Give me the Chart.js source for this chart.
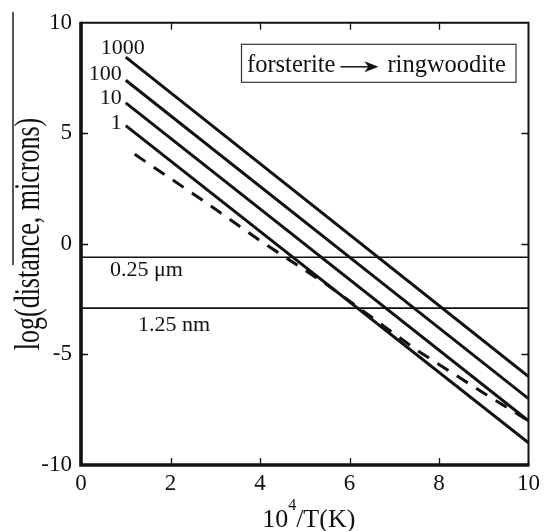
<!DOCTYPE html>
<html>
<head>
<meta charset="utf-8">
<script src="https://cdn.jsdelivr.net/npm/chart.js@4.4.1/dist/chart.umd.min.js"></script>
<style>
  html, body { margin: 0; padding: 0; background: #fff; }
  canvas { display: block; }
</style>
</head>
<body>
<canvas id="c" width="545" height="531"></canvas>
<script>
// Inverse temperature, 10^4/T(K), where each transformation-distance line starts and ends
const invT = [1, 10];

// log10 of the distance (microns) reached, one line per time label
const seriesNames = ['1000', '100', '10', '1'];
const logDist1000 = [8.45, -6.0];
const logDist100 = [7.4, -7.0];
const logDist10 = [6.38, -8.0];
const logDist1 = [5.35, -9.0];

// Dashed curve
const invTDashed = [1.2, 2.7, 4.0, 5.5, 7.5, 8.9, 10];
const logDistDashed = [4.05, 2.0, 0.15, -1.85, -4.8, -6.62, -8.0];

// Reference grain sizes (in microns) and their labels
const refSizes = [0.25, 0.00125];
const refLabels = ['0.25 \u03bcm', '1.25 nm'];

// Axis ticks
const xTicks = [0, 2, 4, 6, 8, 10];
const yTicks = [-10, -5, 0, 5, 10];

const SERIF = '"Liberation Serif", "Times New Roman", serif';
const INK = '#111';

const pts = (xs, ys) => xs.map((v, i) => ({ x: v, y: ys[i] }));
const solidSeries = [logDist1000, logDist100, logDist10, logDist1];

const datasets = solidSeries.map((ys, i) => ({
  label: seriesNames[i],
  data: pts(invT, ys),
  borderColor: INK,
  borderWidth: 3,
  showLine: true,
  pointRadius: 0,
  tension: 0,
  borderCapStyle: 'butt'
}));
datasets.push({
  label: 'dashed',
  data: pts(invTDashed, logDistDashed),
  borderColor: INK,
  borderWidth: 3,
  borderDash: [13, 10],
  showLine: true,
  pointRadius: 0,
  tension: 0
});
refSizes.forEach((s, i) => {
  const yv = Math.log10(s);
  datasets.push({
    label: refLabels[i],
    data: pts([xTicks[0], xTicks[xTicks.length - 1]], [yv, yv]),
    borderColor: INK,
    borderWidth: 1.6,
    showLine: true,
    pointRadius: 0
  });
});

// Pixel nudges for the series labels (relative to each line's first point)
const labelNudge = [[19, -9], [-4, -6], [-4, -5], [-4, -2]];
// Pixel nudges for the reference-size labels (relative to the left end of the plot)
const refNudge = [[29, 13], [57, 17]];

const frame = {
  id: 'frame',
  afterDatasetsDraw(chart) {
    const { ctx, chartArea: a, scales: { x, y } } = chart;
    ctx.save();

    // inward tick marks on all four sides
    ctx.strokeStyle = INK;
    ctx.lineWidth = 1.3;
    const tl = 7;
    x.ticks.forEach(t => {
      if (t.value <= x.min || t.value >= x.max) return;
      const px = Math.round(x.getPixelForValue(t.value)) + 0.5;
      ctx.beginPath();
      ctx.moveTo(px, a.bottom); ctx.lineTo(px, a.bottom - tl);
      ctx.moveTo(px, a.top); ctx.lineTo(px, a.top + tl);
      ctx.stroke();
    });
    y.ticks.forEach(t => {
      if (t.value <= y.min || t.value >= y.max) return;
      const py = Math.round(y.getPixelForValue(t.value)) + 0.5;
      ctx.beginPath();
      ctx.moveTo(a.left, py); ctx.lineTo(a.left + tl, py);
      ctx.moveTo(a.right, py); ctx.lineTo(a.right - tl, py);
      ctx.stroke();
    });

    // frame: heavier left/bottom, lighter top/right
    ctx.lineWidth = 2;
    ctx.beginPath();
    ctx.moveTo(a.left, a.top); ctx.lineTo(a.right, a.top); ctx.lineTo(a.right, a.bottom);
    ctx.stroke();
    ctx.lineWidth = 3.6;
    ctx.beginPath();
    ctx.moveTo(a.left, a.top - 1); ctx.lineTo(a.left, a.bottom); ctx.lineTo(a.right + 1, a.bottom);
    ctx.stroke();

    // series labels
    ctx.fillStyle = INK;
    ctx.font = '22px ' + SERIF;
    ctx.textAlign = 'right';
    ctx.textBaseline = 'middle';
    solidSeries.forEach((ys, i) => {
      const px = x.getPixelForValue(invT[0]) + labelNudge[i][0];
      const py = y.getPixelForValue(ys[0]) + labelNudge[i][1];
      ctx.fillText(seriesNames[i], px, py);
    });

    // reference-size labels
    ctx.textAlign = 'left';
    refSizes.forEach((s, i) => {
      const py = y.getPixelForValue(Math.log10(s)) + refNudge[i][1];
      ctx.fillText(refLabels[i], a.left + refNudge[i][0], py);
    });

    // reaction box
    const bx0 = a.left + 160, by0 = a.top + 21, bx1 = a.right - 13, by1 = a.top + 59;
    ctx.lineWidth = 1.2;
    ctx.strokeStyle = '#333';
    ctx.strokeRect(bx0 + 0.5, by0 + 0.5, bx1 - bx0, by1 - by0);
    ctx.font = '24.5px ' + SERIF;
    ctx.textBaseline = 'alphabetic';
    const base = by0 + 28;
    const t1 = 'forsterite';
    ctx.fillText(t1, bx0 + 6, base);
    const ax0 = bx0 + 6 + ctx.measureText(t1).width + 5;
    const ax1 = ax0 + 38;
    const ay = base - 5;
    ctx.strokeStyle = INK;
    ctx.lineWidth = 1.5;
    ctx.beginPath(); ctx.moveTo(ax0, ay); ctx.lineTo(ax1 - 8, ay); ctx.stroke();
    ctx.beginPath();
    ctx.moveTo(ax1, ay);
    ctx.lineTo(ax1 - 14, ay - 5.5);
    ctx.lineTo(ax1 - 10, ay);
    ctx.lineTo(ax1 - 14, ay + 5.5);
    ctx.closePath();
    ctx.fill();
    ctx.fillText('ringwoodite', ax1 + 9, base);

    // x-axis title with superscript
    ctx.font = '26px ' + SERIF;
    const xb = 527;
    const partA = '10', partB = '4', partC = '/T(K)';
    const wA = ctx.measureText(partA).width;
    const wC = ctx.measureText(partC).width;
    ctx.font = '16px ' + SERIF;
    const wB = ctx.measureText(partB).width;
    const xStart = (a.left + a.right) / 2 + 4 - (wA + wB + wC) / 2;
    ctx.font = '26px ' + SERIF;
    ctx.fillText(partA, xStart, xb);
    ctx.fillText(partC, xStart + wA + wB, xb);
    ctx.font = '16px ' + SERIF;
    ctx.fillText(partB, xStart + wA, xb - 17);

    // y-axis title (glyphs drawn taller than wide)
    ctx.save();
    ctx.translate(38.5, 234);
    ctx.rotate(-Math.PI / 2);
    ctx.scale(1, 1.35);
    ctx.font = '26px ' + SERIF;
    ctx.textAlign = 'center';
    ctx.textBaseline = 'alphabetic';
    ctx.fillText('log(distance, microns)', 0, 0);
    ctx.restore();

    // thin rule beside the y title
    ctx.strokeStyle = INK;
    ctx.lineWidth = 1.4;
    ctx.beginPath(); ctx.moveTo(13, 12); ctx.lineTo(13, 265); ctx.stroke();

    ctx.restore();
  }
};

const tickFont = { family: SERIF, size: 23 };

new Chart(document.getElementById('c'), {
  type: 'scatter',
  data: { datasets },
  options: {
    responsive: false,
    animation: false,
    layout: { padding: { left: 0, top: 18, right: 14, bottom: 0 } },
    plugins: { legend: { display: false }, tooltip: { enabled: false } },
    scales: {
      x: {
        type: 'linear',
        min: xTicks[0], max: xTicks[xTicks.length - 1],
        afterBuildTicks: s => { s.ticks = xTicks.map(v => ({ value: v })); },
        ticks: { font: tickFont, color: INK, padding: 5, maxRotation: 0 },
        grid: { display: false, drawTicks: false },
        border: { display: false },
        afterFit: s => { s.height = 66; }
      },
      y: {
        type: 'linear',
        min: yTicks[0], max: yTicks[yTicks.length - 1],
        afterBuildTicks: s => { s.ticks = yTicks.map(v => ({ value: v })); },
        ticks: { font: tickFont, color: INK, padding: 9 },
        grid: { display: false, drawTicks: false },
        border: { display: false },
        afterFit: s => { s.width = 81; }
      }
    }
  },
  plugins: [frame]
});
</script>
</body>
</html>
